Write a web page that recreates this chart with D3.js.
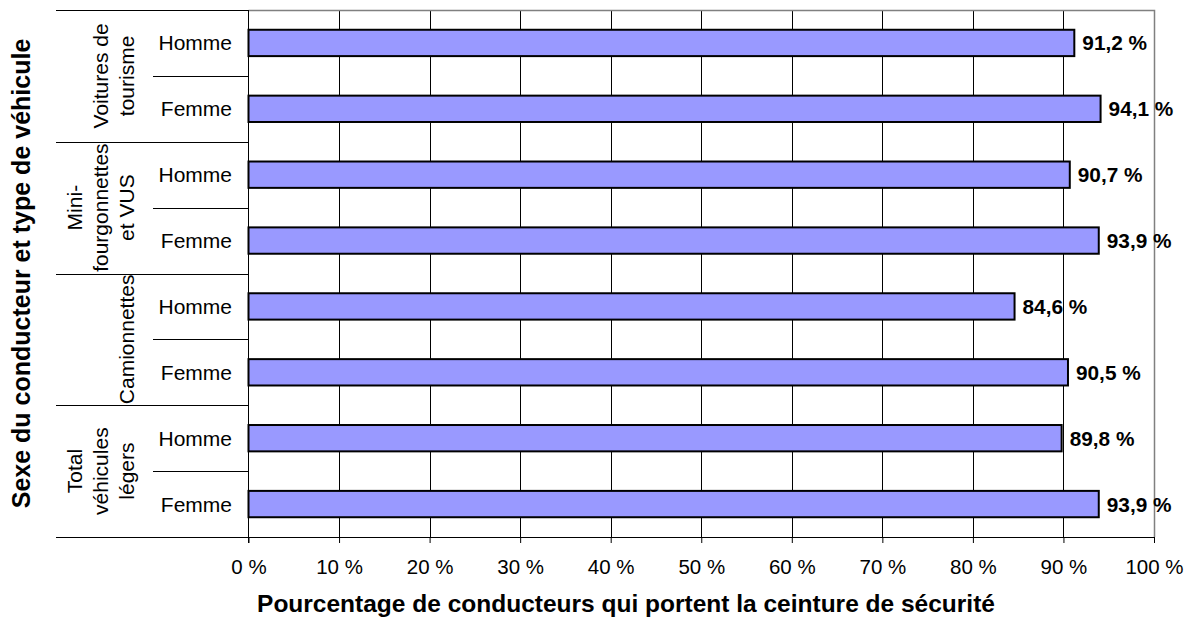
<!DOCTYPE html>
<html>
<head>
<meta charset="utf-8">
<title>Port de la ceinture</title>
<style>
  body { margin: 0; background: #fff; }
  text { font-family: Arial, "Liberation Sans", sans-serif; fill: #000; }
  .grid line { stroke: #000; stroke-width: 1; }
  .bar { fill: #9999ff; stroke: #000; stroke-width: 2; }
  .sep { stroke: #000; stroke-width: 1; }
</style>
</head>
<body>
<div id="chart"></div>
<script src="https://d3js.org/d3.v7.min.js"></script>
<script>
// data
var groupLines = [["Voitures de", "tourisme"], ["Mini-", "fourgonnettes", "et VUS"], ["Camionnettes"], ["Total", "véhicules", "légers"]];
var sexes = ["Homme", "Femme"];
var values = [91.2, 94.1, 90.7, 93.9, 84.6, 90.5, 89.8, 93.9];
var xTicks = [0, 10, 20, 30, 40, 50, 60, 70, 80, 90, 100];

var width = 1194, height = 623;
var pLeft = 248.5, pRight = 1154, pTop = 10, pBottom = 537;

var rows = [];
groupLines.forEach(function (g, gi) {
  sexes.forEach(function (s, si) {
    rows.push({ id: gi + "-" + s, group: gi, sex: s, value: values[gi * 2 + si] });
  });
});

var svg = d3.select("#chart").append("svg")
    .attr("width", width).attr("height", height);

var x = d3.scaleLinear().domain([0, 100]).range([pLeft, pRight]);
var y = d3.scaleBand().domain(rows.map(function (d) { return d.id; }))
    .range([pTop, pBottom]).paddingInner(0.6).paddingOuter(0.3);
var step = y.step();

// vertical gridlines
svg.append("g").attr("class", "grid")
  .selectAll("line").data(xTicks.slice(1, -1)).enter().append("line")
    .attr("x1", function (d) { return Math.round(x(d)) + 0.5; })
    .attr("x2", function (d) { return Math.round(x(d)) + 0.5; })
    .attr("y1", pTop).attr("y2", pBottom);

// plot border top/right (grey)
svg.append("path")
    .attr("d", "M" + pLeft + "," + (pTop + 0.5) + "H" + (pRight + 0.5) + "V" + pBottom)
    .attr("fill", "none").attr("stroke", "#808080").attr("stroke-width", 1.5);

// bars
svg.selectAll("rect.bar").data(rows).enter().append("rect")
    .attr("class", "bar")
    .attr("x", x(0))
    .attr("y", function (d) { return y(d.id); })
    .attr("width", function (d) { return x(d.value) - x(0); })
    .attr("height", y.bandwidth());

// value labels
svg.selectAll("text.val").data(rows).enter().append("text")
    .attr("class", "val")
    .attr("x", function (d) { return x(d.value) + 8; })
    .attr("y", function (d) { return y(d.id) + y.bandwidth() / 2 + 7.5; })
    .style("font-weight", "bold").style("font-size", "20.8px")
    .text(function (d) { return d3.format(".1f")(d.value).replace(".", ",") + " %"; });

// x axis
var xAxis = d3.axisBottom(x).tickValues(xTicks).tickSize(6).tickPadding(16)
    .tickFormat(function (d) { return d + " %"; });
var gx = svg.append("g").attr("transform", "translate(0," + pBottom + ")").call(xAxis);
gx.select(".domain").attr("stroke", "#000").attr("d", "M" + pLeft + ",0.5H" + pRight);
gx.selectAll(".tick line").attr("stroke", "#000");
gx.selectAll(".tick text").style("font-size", "20.5px").style("font-family", "Arial, 'Liberation Sans', sans-serif").attr("fill", "#000");

// left axis line
svg.append("line").attr("class", "sep")
    .attr("x1", pLeft).attr("x2", pLeft).attr("y1", pTop).attr("y2", pBottom + 6);

// category separators
var groupEdges = d3.range(groupLines.length + 1).map(function (i) { return pTop + i * 2 * step; });
svg.selectAll("line.gsep").data(groupEdges).enter().append("line")
    .attr("class", "sep")
    .attr("x1", 56).attr("x2", pLeft)
    .attr("y1", function (d) { return Math.round(d) + 0.5; })
    .attr("y2", function (d) { return Math.round(d) + 0.5; });
svg.selectAll("line.ssep").data(groupLines).enter().append("line")
    .attr("class", "sep")
    .attr("x1", 153).attr("x2", pLeft)
    .attr("y1", function (d, i) { return Math.round(pTop + (2 * i + 1) * step) + 0.5; })
    .attr("y2", function (d, i) { return Math.round(pTop + (2 * i + 1) * step) + 0.5; });

// sex labels
svg.selectAll("text.sex").data(rows).enter().append("text")
    .attr("x", 232)
    .attr("y", function (d) { return y(d.id) + y.bandwidth() / 2 + 7.5; })
    .attr("text-anchor", "end")
    .style("font-size", "21px")
    .text(function (d) { return d.sex; });

// group labels (rotated, bottom aligned)
groupLines.forEach(function (lines, gi) {
  var cy = pTop + (2 * gi + 1) * step;
  var t = svg.append("text")
      .attr("transform", "translate(0," + cy + ") rotate(-90)")
      .attr("text-anchor", "middle")
      .style("font-size", "21px");
  lines.forEach(function (l, li) {
    t.append("tspan").attr("x", 0).attr("y", 134 - 26 * (lines.length - 1 - li)).text(l);
  });
});

// axis titles
svg.append("text")
    .attr("x", 626).attr("y", 612)
    .attr("text-anchor", "middle")
    .style("font-weight", "bold").style("font-size", "24.5px")
    .text("Pourcentage de conducteurs qui portent la ceinture de sécurité");

svg.append("text")
    .attr("transform", "translate(30," + ((pTop + pBottom) / 2) + ") rotate(-90)")
    .attr("text-anchor", "middle")
    .style("font-weight", "bold").style("font-size", "25px")
    .text("Sexe du conducteur et type de véhicule");
</script>
</body>
</html>
